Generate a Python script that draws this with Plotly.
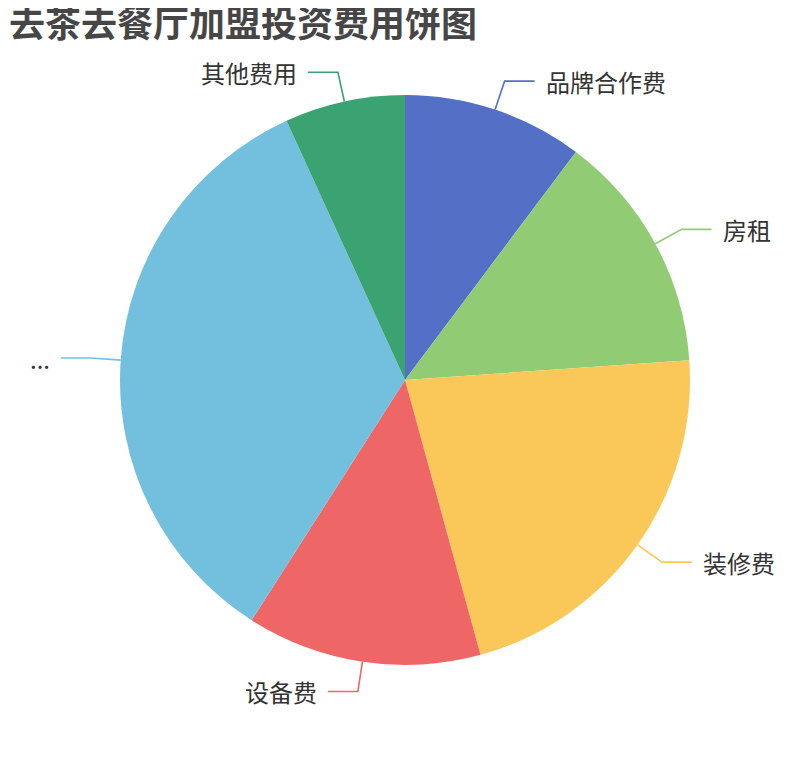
import math
import plotly.graph_objects as go

# ---- data ----
categories = ["品牌合作费", "房租", "装修费", "设备费", "...", "其他费用"]
values = [3, 4, 6.4, 3.9, 10, 2]
colors = ["#5470c6", "#91cc75", "#fac858", "#ee6666", "#73c0de", "#3ba272"]
title_text = "去茶去餐厅加盟投资费用饼图"

W, H = 810, 760
OFF = 8  # browser body margin compensation
CX, CY, R = 405 - OFF, 380 - OFF, 285
LEN1, LEN2, GAP = 30, 30, 9
FONT = "Noto Sans CJK SC, Noto Sans, sans-serif"

fig = go.Figure()
fig.add_trace(go.Pie(
    labels=categories, values=values, sort=False, direction="clockwise", rotation=0,
    marker=dict(colors=colors, line=dict(width=0)),
    textinfo="none", hoverinfo="none", showlegend=False,
    domain=dict(x=[(CX - R) / W, (CX + R) / W], y=[(H - CY - R) / H, (H - CY + R) / H]),
))

def px(x):
    return x / W

def py(y):
    return 1 - y / H

total = sum(values)
cum = 0
shapes, annots = [], []
for name, v, c in zip(categories, values, colors):
    mid = (cum + v / 2) / total * 2 * math.pi
    cum += v
    sx, sy = CX + R * math.sin(mid), CY - R * math.cos(mid)
    ex, ey = CX + (R + LEN1) * math.sin(mid), CY - (R + LEN1) * math.cos(mid)
    right = math.sin(mid) >= 0
    hx = ex + (LEN2 if right else -LEN2)
    path = f"M {px(sx)} {py(sy)} L {px(ex)} {py(ey)} L {px(hx)} {py(ey)}"
    shapes.append(dict(type="path", xref="paper", yref="paper", path=path,
                       line=dict(color=c, width=1.6)))
    annots.append(dict(xref="paper", yref="paper", x=px(hx + (GAP if right else -GAP)), y=py(ey),
                       text=name, showarrow=False, xanchor="left" if right else "right",
                       yanchor="middle", font=dict(size=24, color="#333333", family=FONT)))

annots.append(dict(xref="paper", yref="paper", x=px(10 - OFF - 2), y=py(25 - OFF - 4),
                   text=f"<b>{title_text}</b>", borderpad=0,
                   showarrow=False, xanchor="left", yanchor="middle",
                   font=dict(size=36, color="#464646", family=FONT)))

fig.update_layout(width=W, height=H, margin=dict(l=0, r=0, t=0, b=0),
                  paper_bgcolor="white", plot_bgcolor="white",
                  shapes=shapes, annotations=annots)

fig.write_html("out.html")
